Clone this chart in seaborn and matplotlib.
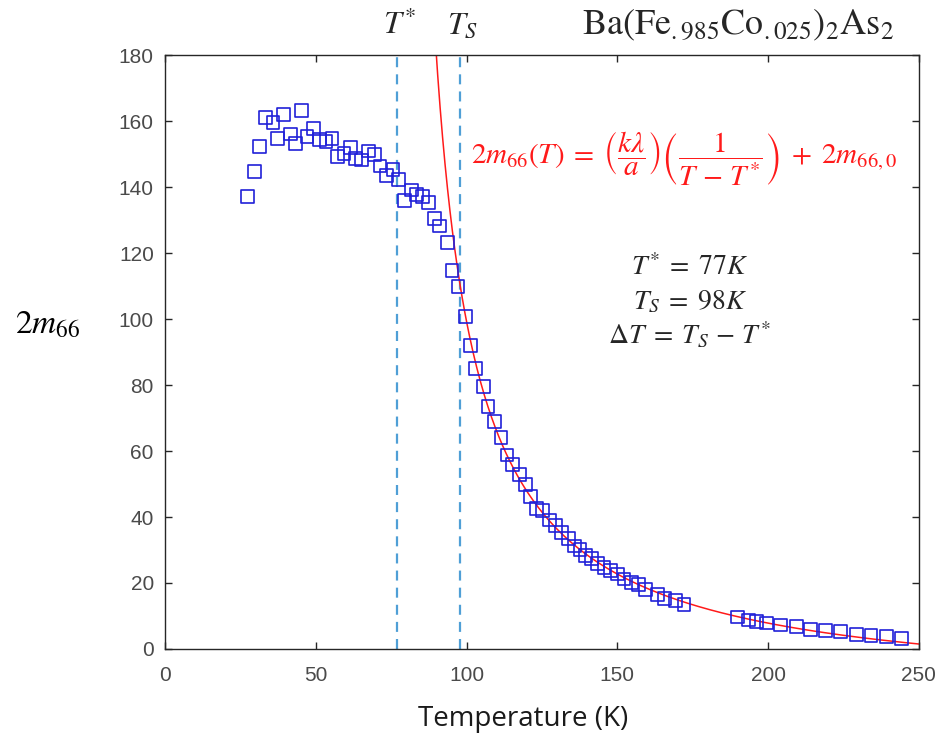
import numpy as np
import pandas as pd
import matplotlib
matplotlib.use("Agg")
import matplotlib.pyplot as plt
import seaborn as sns

# Measured shear modulus 2*m66 versus temperature
temperature = [
    27.3, 29.7, 31.4, 33.4, 35.8, 37.4, 39.2, 41.6, 43.3, 45.2,
    47.1, 49.3, 51.2, 53.4, 55.4, 57.2, 59.4, 61.4, 63.3, 65.3,
    67.4, 69.4, 71.3, 73.4, 75.6, 77.4, 79.3, 81.7, 83.5, 85.3,
    87.5, 89.4, 91.1, 93.6, 95.2, 97.2, 99.6, 101.3, 103.1, 105.5,
    107.1, 109.2, 111.4, 113.4, 115.3, 117.5, 119.5, 121.1, 123.3, 125.3,
    127.5, 129.6, 131.5, 133.7, 135.7, 137.6, 139.5, 141.5, 143.4, 145.6,
    147.8, 150.0, 152.2, 154.7, 157.1, 159.3, 163.2, 165.7, 169.3, 172.1,
    189.9, 193.4, 196.1, 199.4, 204.2, 209.4, 214.1, 219.1, 224.0, 229.2,
    234.1, 239.3, 244.3,
]
m66 = [
    137.1, 144.7, 152.2, 161.0, 159.6, 154.8, 162.0, 156.1, 153.3, 163.2,
    155.3, 157.8, 154.5, 153.8, 154.8, 149.2, 150.2, 152.1, 148.7, 148.2,
    150.9, 149.9, 146.4, 143.4, 145.2, 142.2, 135.8, 139.1, 137.8, 137.1,
    135.3, 130.4, 128.2, 123.2, 114.7, 109.9, 100.8, 92.0, 84.9, 79.5,
    73.6, 68.9, 64.2, 58.8, 55.8, 52.9, 49.9, 46.2, 42.6, 42.0,
    39.1, 37.5, 35.3, 33.6, 31.2, 30.2, 28.4, 27.4, 25.9, 24.7,
    23.7, 22.7, 21.2, 20.2, 19.5, 18.1, 16.6, 15.3, 14.6, 13.6,
    9.7, 8.8, 8.4, 7.9, 7.3, 6.7, 6.0, 5.5, 5.2, 4.5,
    4.0, 3.8, 3.3,
]

# Curie-Weiss-like fit: amp / (T - tstar) + offset
fit_amp = 2735.0
fit_tstar = 75.9
fit_offset = -14.2
fit_tmin, fit_tmax = 88.0, 250.0

t_star = 77
t_s = 98

x_ticks = [0, 50, 100, 150, 200, 250]
y_ticks = [0, 20, 40, 60, 80, 100, 120, 140, 160, 180]

sns.set_theme(style="white")
plt.rcParams["mathtext.fontset"] = "stix"
plt.rcParams["font.family"] = ["Liberation Sans", "DejaVu Sans"]

fig = plt.figure(figsize=(9.41, 7.39), dpi=100)
ax = fig.add_axes([0.1753, 0.1218, 0.8012, 0.8037])

data = pd.DataFrame({"T": temperature, "m": m66})
t_fit = np.linspace(fit_tmin, fit_tmax, 400)
fit = pd.DataFrame({"T": t_fit, "m": fit_amp / (t_fit - fit_tstar) + fit_offset})

dash_color = "#4f9fd6"
ax.axvline(t_star, color=dash_color, lw=1.6, dashes=(4.5, 3.2), zorder=1)
ax.axvline(t_s, color=dash_color, lw=1.6, dashes=(4.5, 3.2), zorder=1)

sns.scatterplot(data=data, x="T", y="m", ax=ax, marker="s", s=85,
                facecolor="none", edgecolor="#2020d8", linewidth=1.2, zorder=3)
sns.lineplot(data=fit, x="T", y="m", ax=ax, color="#ff1a1a", lw=1.1, zorder=2)

ax.set_xlim(0, 250)
ax.set_ylim(0, 180)
ax.set_xticks(x_ticks)
ax.set_yticks(y_ticks)
ax.tick_params(direction="in", length=5, width=1, colors="#262626",
               labelcolor="#4a4a4a", labelsize=15, top=True, right=True,
               bottom=True, left=True)
ax.tick_params(axis="x", pad=12)
ax.tick_params(axis="y", pad=8)
ax.set_xticklabels([str(v) for v in x_ticks])
ax.set_yticklabels([str(v) for v in y_ticks])
for sp in ax.spines.values():
    sp.set_color("#262626")
    sp.set_linewidth(1.0)

ax.set_xlabel("Temperature (K)", fontsize=20, family="Open Sans",
              color="#1a1a1a")
ax.xaxis.set_label_coords(0.475, -0.094)
ax.set_ylabel("")
fig.text(0.051, 0.56, r"$2m_{66}$", fontsize=24, ha="center", va="center",
         color="black")

# labels above the plot area
ax.text(t_star + 0.8, 189, r"$T^{*}$", fontsize=23, ha="center", va="center",
        clip_on=False)
ax.text(t_s + 0.8, 189, r"$T_{S}$", fontsize=23, ha="center", va="center",
        clip_on=False)
ax.text(190, 189, r"$\mathrm{Ba(Fe_{{.}985}Co_{{.}025})_{2}As_{2}}$",
        fontsize=26, ha="center", va="center", clip_on=False)

ax.text(101.5, 148.5,
        r"$2m_{66}(T)\;=\;\left(\dfrac{k\lambda}{a}\right)\left(\dfrac{1}{T\,-\,T^{*}}\right)\;+\;2m_{66,0}$",
        fontsize=21, color="#ff1a1a", ha="left", va="center")

ax.text(174, 115.5, r"$T^{*}\;=\;77K$", fontsize=20, ha="center", va="center")
ax.text(174, 105.0, r"$T_{S}\;=\;98K$", fontsize=20, ha="center", va="center")
ax.text(174, 95.0, r"$\Delta T\;=\;T_{S}\,-\,T^{*}$", fontsize=20,
        ha="center", va="center")

fig.savefig("out.png", dpi=100, facecolor="white")
